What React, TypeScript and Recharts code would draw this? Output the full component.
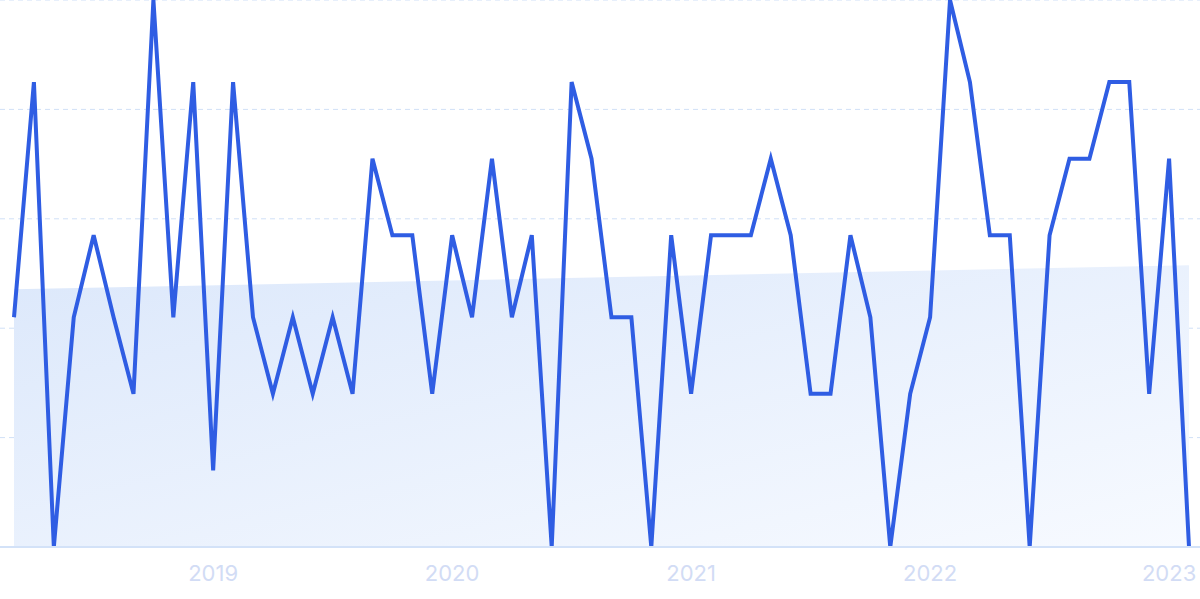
import { Area, CartesianGrid, ComposedChart, Line, XAxis, YAxis } from 'recharts';

// monthly interest, Mar 2018 .. Feb 2023
const months = [
  '2018-03', '2018-04', '2018-05', '2018-06', '2018-07', '2018-08', '2018-09', '2018-10', '2018-11', '2018-12',
  '2019-01', '2019-02', '2019-03', '2019-04', '2019-05', '2019-06', '2019-07', '2019-08', '2019-09', '2019-10', '2019-11', '2019-12',
  '2020-01', '2020-02', '2020-03', '2020-04', '2020-05', '2020-06', '2020-07', '2020-08', '2020-09', '2020-10', '2020-11', '2020-12',
  '2021-01', '2021-02', '2021-03', '2021-04', '2021-05', '2021-06', '2021-07', '2021-08', '2021-09', '2021-10', '2021-11', '2021-12',
  '2022-01', '2022-02', '2022-03', '2022-04', '2022-05', '2022-06', '2022-07', '2022-08', '2022-09', '2022-10', '2022-11', '2022-12',
  '2023-01', '2023-02',
];

const interest = [
  42, 85, 0, 42, 57, 42, 28, 100, 42, 85,
  14, 85, 42, 28, 42, 28, 42, 28, 71, 57, 57, 28,
  57, 42, 71, 42, 57, 0, 85, 71, 42, 42, 0, 57,
  28, 57, 57, 57, 71, 57, 28, 28, 57, 42, 0, 28,
  42, 100, 85, 57, 57, 0, 57, 71, 71, 85, 85, 28,
  71, 0,
];

// trend line endpoints only (first and last month)
const trendStart = 47.1;
const trendEnd = 51.5;

const yearTicks = ['2019-01', '2020-01', '2021-01', '2022-01', '2023-01'];
const yTicks = [0, 20, 40, 60, 80, 100];

const data = months.map((m, i) => ({
  month: m,
  interest: interest[i],
  trend: i === 0 ? trendStart : i === months.length - 1 ? trendEnd : null,
}));

export default function App() {
  return (
    <div style={{ position: 'absolute', left: 0, top: 0, width: 1200, height: 599, background: '#fff' }}>
      <ComposedChart width={1200} height={599} data={data} margin={{ top: 0, right: 0, bottom: 0, left: 0 }}>
        <defs>
          <linearGradient id="trendFill" x1="0" y1="0" x2="1" y2="1">
            <stop offset="0%" stopColor="#dce8fb" />
            <stop offset="100%" stopColor="#f7faff" />
          </linearGradient>
        </defs>
        <CartesianGrid vertical={false} stroke="#d0e0f7" strokeDasharray="5 4" />
        <XAxis
          dataKey="month"
          ticks={yearTicks}
          interval={0}
          tickFormatter={(v: string) => v.slice(0, 4)}
          padding={{ left: 14, right: 11 }}
          height={52}
          tickLine={false}
          axisLine={{ stroke: '#d3e2f8', strokeWidth: 2 }}
          tick={{ fill: '#d2dcf5', fontSize: 22, fontFamily: 'Inter' }}
          tickMargin={12}
        />
        <YAxis hide domain={[0, 100]} ticks={yTicks} />
        <Area
          type="linear"
          dataKey="trend"
          connectNulls
          stroke="none"
          fill="url(#trendFill)"
          fillOpacity={1}
          isAnimationActive={false}
          dot={false}
          activeDot={false}
        />
        <Line
          type="linear"
          dataKey="interest"
          stroke="#2f5de3"
          strokeWidth={4}
          dot={false}
          activeDot={false}
          isAnimationActive={false}
        />
      </ComposedChart>
    </div>
  );
}
